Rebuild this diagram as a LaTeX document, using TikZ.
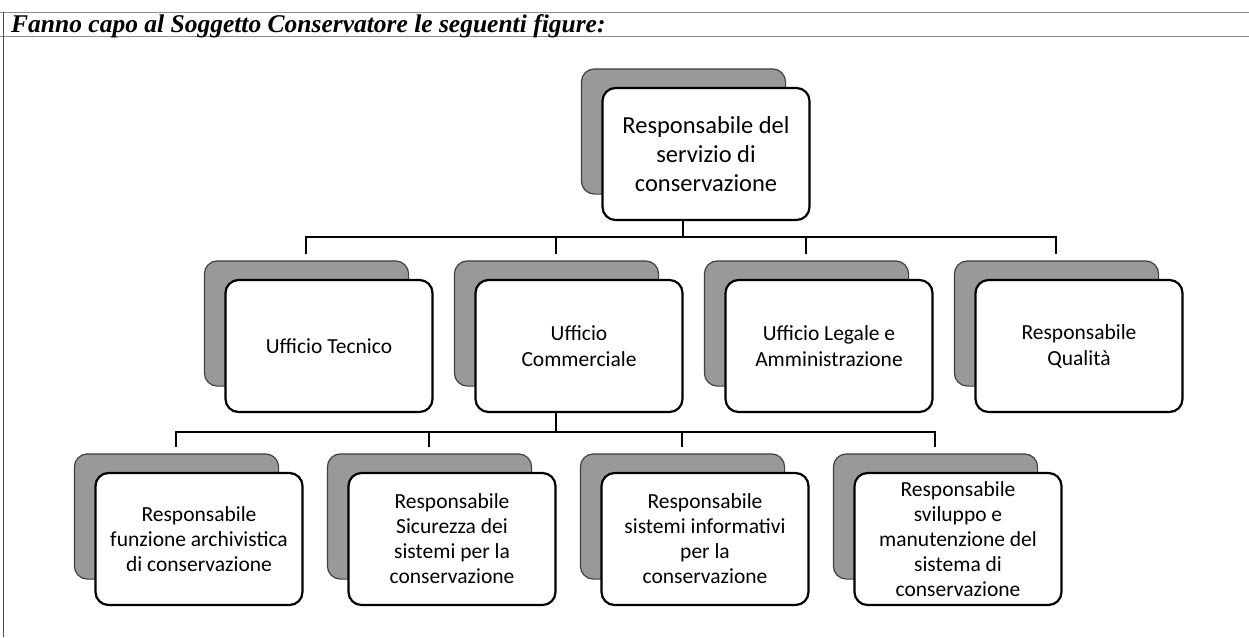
\documentclass[tikz,border=0pt]{standalone}
\usepackage{fontspec}
\setmainfont{Carlito}
\newfontfamily\titlefont{Liberation Serif}
\usetikzlibrary{backgrounds}
\begin{document}
\begin{tikzpicture}[x=1pt,y=-1pt,
  box/.style={draw=black, line width=2.2pt, fill=white, rounded corners=13pt,
    minimum width=207pt, minimum height=132pt, align=center, inner sep=2pt,
    font=\fontsize{21.5}{26}\selectfont},
  topbox/.style={box, font=\fontsize{24.5}{29}\selectfont},
  lowbox/.style={box, font=\fontsize{21.5}{25}\selectfont},
  shadowbox/.style={draw=black!75, line width=1.2pt, fill=black!40, rounded corners=13pt},
  conn/.style={draw=black, line width=2.6pt, line join=miter},
  frame/.style={draw=black!45, line width=1pt}]
\useasboundingbox (0,0) rectangle (1249,637);
% frame
\draw[frame] (0,12) -- (1249,12);
\draw[frame] (0,36) -- (1249,36);
\draw[frame, draw=black!70] (3,12) -- (3,637);
\node[anchor=base west, inner sep=0pt, font={\titlefont\bfseries\itshape\fontsize{25.5}{28}\selectfont}] (title) at (11,32) {Fanno capo al Soggetto Conservatore le seguenti figure:};
% boxes
\node[topbox] (top) at (706,154) {Responsabile del\\servizio di\\conservazione};
\node[box] (t) at (329,346) {Ufficio Tecnico};
\node[box] (c) at (579,346) {Ufficio\\Commerciale};
\node[box] (l) at (829,346) {Ufficio Legale e\\Amministrazione};
\node[box] (q) at (1079,346) {Responsabile\\Qualità};
\node[lowbox] (a) at (199,539) {Responsabile\\funzione archivistica\\di conservazione};
\node[lowbox] (s) at (452,539) {Responsabile\\Sicurezza dei\\sistemi per la\\conservazione};
\node[lowbox] (i) at (705,539) {Responsabile\\sistemi informativi\\per la\\conservazione};
\node[lowbox] (m) at (958,539) {Responsabile\\sviluppo e\\manutenzione del\\sistema di\\conservazione};
% shadows
\begin{scope}[on background layer]
\foreach \n in {top,t,c,l,q,a,s,i,m}
  \draw[shadowbox] ([shift={(-20,-18)}]\n.north west) rectangle ([shift={(-25,-27)}]\n.south east);
\end{scope}
% connector points
\coordinate (bus1) at (0,237);
\coordinate (bus2) at (0,432);
\coordinate (p-top) at ([xshift=-23pt]top.south);
\coordinate (p-c) at ([xshift=-23pt]c.south);
\foreach \n in {t,c,l,q,a,s,i,m}
  \coordinate (c-\n) at ([shift={(-23,-25)}]\n.north);
% connectors
\draw[conn] (p-top) -- (p-top |- bus1);
\draw[conn] (c-t) -- (c-t |- bus1) -- (c-q |- bus1) -- (c-q);
\draw[conn] (c-c |- bus1) -- (c-c);
\draw[conn] (c-l |- bus1) -- (c-l);
\draw[conn] (p-c) -- (p-c |- bus2);
\draw[conn] (c-a) -- (c-a |- bus2) -- (c-m |- bus2) -- (c-m);
\draw[conn] (c-s |- bus2) -- (c-s);
\draw[conn] (c-i |- bus2) -- (c-i);
\end{tikzpicture}
\end{document}
